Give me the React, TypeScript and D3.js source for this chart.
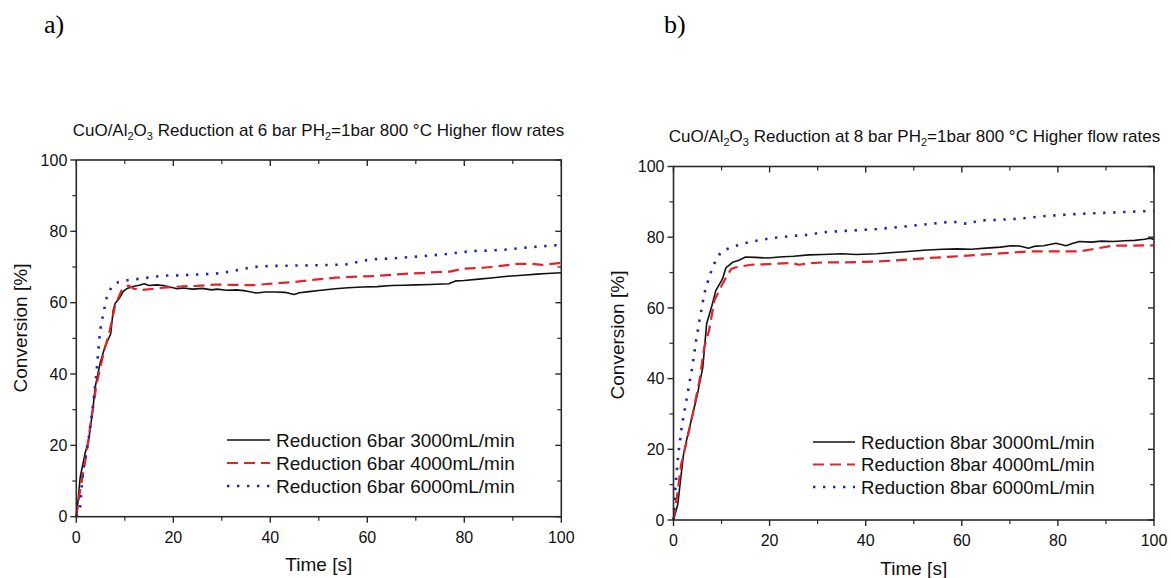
import React from 'react';
import * as d3 from 'd3';

// ---------- Data: panel a) 6 bar ----------
const tA3000 = [0, 0.4, 0.8, 1.8, 2.5, 3.4, 3.9, 4.9, 5.9, 7.1, 7.6, 8.0, 8.8, 9.7, 10.5, 11.9, 13.0, 14.0, 15.0, 16.6, 18, 20.8, 22, 24, 26, 27.9, 29, 31, 33, 35, 37.1, 39, 41, 43, 44.9, 46, 48, 50, 53.4, 56, 59, 62, 65, 67.6, 70, 73, 76.8, 78.2, 80, 83, 86, 88.9, 92, 95, 97, 100];
const vA3000 = [0, 5, 11, 17.7, 21, 29.9, 36.4, 43, 47.6, 51.3, 57.8, 59.8, 61.1, 63.2, 64, 64.6, 64.9, 65.3, 64.8, 65, 64.8, 63.9, 64.1, 63.8, 64, 63.6, 63.8, 63.5, 63.6, 63.3, 62.7, 63, 63.0, 62.9, 62.3, 62.8, 63.1, 63.4, 63.9, 64.2, 64.4, 64.5, 64.8, 64.9, 65, 65.1, 65.3, 66.1, 66.2, 66.6, 67, 67.4, 67.7, 68, 68.2, 68.4];

const tA4000 = [0, 0.8, 2, 3.2, 4.2, 5.6, 6.9, 8, 9.3, 10.7, 11.9, 13.7, 15.9, 17.9, 22, 25, 28.6, 32, 36.4, 40, 44.9, 48, 53.4, 58, 62, 67.6, 71, 74.7, 77, 79.6, 84, 88, 91, 94, 96, 99.5, 100];
const vA4000 = [0, 7.5, 16.8, 28.5, 37.3, 45.7, 52.2, 59.2, 63.4, 64.8, 63.9, 63.6, 63.9, 64.2, 64.6, 64.7, 65.1, 65.0, 64.9, 65.3, 65.8, 66.3, 67.0, 67.3, 67.5, 68.1, 68.3, 68.6, 68.7, 69.5, 69.8, 70.4, 70.9, 70.9, 70.6, 71.1, 71.1];

const tA6000 = [0, 0.8, 1.4, 2.5, 3.5, 4.2, 4.9, 5.7, 6.3, 7.3, 8.7, 10.9, 13.1, 17.9, 20, 25, 28.6, 32.1, 36.4, 40, 45, 50, 55.5, 60.5, 65, 71.1, 76, 81.8, 85, 88.9, 93, 98.8, 100];
const vA6000 = [0, 2.8, 13, 21.5, 31.7, 41, 52.2, 57.8, 61.6, 64.5, 65.8, 66.4, 66.7, 67.6, 67.6, 67.9, 68.1, 68.8, 70.0, 70.3, 70.4, 70.5, 70.7, 72.1, 72.4, 73.0, 73.6, 74.5, 74.6, 74.9, 75.5, 76.1, 76.1];

// ---------- Data: panel b) 8 bar ----------
const tB3000 = [0, 0.9, 1.6, 2.1, 3, 4, 5, 6.1, 6.9, 8, 8.8, 10.2, 10.9, 12.3, 13.5, 15, 17, 19.7, 22, 25, 28.2, 31, 35, 38, 42.3, 45, 48, 50, 52.8, 56, 59, 62, 65, 68, 70.4, 72, 73.9, 75, 77, 79.6, 81.7, 83, 84.5, 87, 89, 91.5, 94, 96, 98, 99.3, 100];
const vB3000 = [0, 4.5, 13, 18.7, 24.3, 30, 35.7, 43.2, 55.5, 60.7, 64.9, 68.2, 71.3, 72.9, 73.4, 74.4, 74.3, 74.1, 74.4, 74.6, 75, 75.1, 75.3, 75.1, 75.3, 75.6, 75.9, 76.1, 76.4, 76.6, 76.7, 76.6, 76.9, 77.2, 77.6, 77.5, 76.9, 77.4, 77.6, 78.3, 77.6, 78.2, 78.8, 78.6, 78.9, 78.8, 79.0, 79.1, 79.4, 79.7, 79.3];

const tB4000 = [0, 0.7, 1.6, 2.8, 4, 5.4, 6.4, 7.4, 8.5, 10.2, 11.2, 12, 13, 16.2, 20, 24.6, 26.1, 28, 31.7, 36, 42.3, 47, 52.8, 58, 63.4, 68, 73.9, 78, 84.5, 88, 91.5, 95, 99.3, 100];
const vB4000 = [0, 6.4, 15.8, 22.5, 30, 39.4, 48.9, 53.6, 62.1, 66.8, 69.2, 71.0, 71.5, 72.2, 72.4, 72.7, 72.2, 72.6, 72.9, 72.9, 73.1, 73.5, 74.1, 74.5, 75.0, 75.4, 76.0, 76.0, 76.0, 76.8, 77.6, 77.6, 77.7, 77.7];

const tB6000 = [0, 0.4, 1, 1.8, 2.8, 3.9, 4.7, 5.4, 6.4, 7.6, 8.8, 10.0, 12.3, 15.7, 20.6, 26.1, 28.2, 31, 36, 42.3, 48, 53, 56.3, 59, 61.3, 63.4, 67, 70.4, 74, 77.5, 81, 84.5, 88, 91.5, 95, 99.3, 100];
const vB6000 = [0, 9.2, 18.7, 27.2, 34.7, 43.2, 50.8, 56.4, 64, 69.5, 73.5, 76.0, 77.3, 78.6, 79.8, 80.5, 80.7, 81.4, 81.8, 82.3, 83.0, 83.7, 84.2, 84.3, 83.7, 84.7, 84.9, 85.1, 85.5, 86.0, 86.3, 86.6, 86.8, 87.0, 87.2, 87.4, 87.4];

const legendA = ['Reduction 6bar 3000mL/min', 'Reduction 6bar 4000mL/min', 'Reduction 6bar 6000mL/min'];
const legendB = ['Reduction 8bar 3000mL/min', 'Reduction 8bar 4000mL/min', 'Reduction 8bar 6000mL/min'];

const xTicks = [0, 20, 40, 60, 80, 100];
const yTicks = [0, 20, 40, 60, 80, 100];
const minorTicks = [10, 30, 50, 70, 90];

const FONT = 'Liberation Sans, Arial, Helvetica, sans-serif';
const AXIS = '#2a2a2a';

const styles = [
  { stroke: '#111111', width: 1.6, dash: undefined as string | undefined },
  { stroke: '#e3222b', width: 2.2, dash: '11,6' },
  { stroke: '#2424b4', width: 2.6, dash: '2.4,7.6' },
];

type Cfg = {
  left: number; right: number; top: number; bottom: number;
  bar: string; titleX: number; titleY: number;
  yLabelX: number; yLabelY: number; xLabelY: number;
  legLineX0: number; legLineX1: number; legTextX: number; legRows: number[]; legFont: number;
  letter: string; letterX: number;
};

function Panel({ cfg, ts, vs, legend }: { cfg: Cfg; ts: number[][]; vs: number[][]; legend: string[] }) {
  const x = d3.scaleLinear().domain([0, 100]).range([cfg.left, cfg.right]);
  const y = d3.scaleLinear().domain([0, 100]).range([cfg.bottom, cfg.top]);
  const line = d3.line<[number, number]>().x(d => x(d[0])).y(d => y(d[1]));
  const paths = ts.map((t, i) => line(t.map((tt, j) => [tt, vs[i][j]] as [number, number])) || '');
  return (
    <g>
      <text x={cfg.letterX} y={33} fontFamily="Liberation Serif, Times New Roman, serif" fontSize={26} fill="#000">{cfg.letter}</text>
      <text x={cfg.titleX} y={cfg.titleY} fontFamily={FONT} fontSize={17} fill="#111">
        <tspan>CuO/Al</tspan>
        <tspan fontSize={11} dy={4}>2</tspan>
        <tspan dy={-4}>O</tspan>
        <tspan fontSize={11} dy={4}>3</tspan>
        <tspan dy={-4}>{` Reduction at ${cfg.bar} bar PH`}</tspan>
        <tspan fontSize={11} dy={4}>2</tspan>
        <tspan dy={-4}>=1bar 800 °C Higher flow rates</tspan>
      </text>
      <g fill="none" strokeLinejoin="round">
        {paths.map((p, i) => (
          <path key={i} d={p} stroke={styles[i].stroke} strokeWidth={styles[i].width} strokeDasharray={styles[i].dash} />
        ))}
      </g>
      <rect x={cfg.left} y={cfg.top} width={cfg.right - cfg.left} height={cfg.bottom - cfg.top} fill="none" stroke={AXIS} strokeWidth={1.6} />
      {xTicks.map(v => (
        <g key={'xt' + v}>
          <line x1={x(v)} x2={x(v)} y1={cfg.bottom} y2={cfg.bottom + 6} stroke={AXIS} strokeWidth={1.4} />
          <line x1={x(v)} x2={x(v)} y1={cfg.top} y2={cfg.top + 6} stroke={AXIS} strokeWidth={1.4} />
          <text x={x(v)} y={cfg.bottom + 26} textAnchor="middle" fontFamily={FONT} fontSize={16} fill="#111">{v}</text>
        </g>
      ))}
      {minorTicks.map(v => (
        <g key={'xm' + v}>
          <line x1={x(v)} x2={x(v)} y1={cfg.bottom} y2={cfg.bottom + 4} stroke={AXIS} strokeWidth={1.2} />
          <line x1={x(v)} x2={x(v)} y1={cfg.top} y2={cfg.top + 4} stroke={AXIS} strokeWidth={1.2} />
        </g>
      ))}
      {yTicks.map(v => (
        <g key={'yt' + v}>
          <line x1={cfg.left - 6} x2={cfg.left} y1={y(v)} y2={y(v)} stroke={AXIS} strokeWidth={1.4} />
          <line x1={cfg.right - 6} x2={cfg.right} y1={y(v)} y2={y(v)} stroke={AXIS} strokeWidth={1.4} />
          <text x={cfg.left - 9} y={y(v) + 5.7} textAnchor="end" fontFamily={FONT} fontSize={16} fill="#111">{v}</text>
        </g>
      ))}
      {minorTicks.map(v => (
        <g key={'ym' + v}>
          <line x1={cfg.left - 4} x2={cfg.left} y1={y(v)} y2={y(v)} stroke={AXIS} strokeWidth={1.2} />
          <line x1={cfg.right - 4} x2={cfg.right} y1={y(v)} y2={y(v)} stroke={AXIS} strokeWidth={1.2} />
        </g>
      ))}
      <text x={(cfg.left + cfg.right) / 2} y={cfg.xLabelY} textAnchor="middle" fontFamily={FONT} fontSize={19} fill="#111">Time [s]</text>
      <text transform={`translate(${cfg.yLabelX},${cfg.yLabelY}) rotate(-90)`} textAnchor="middle" fontFamily={FONT} fontSize={19} fill="#111">Conversion [%]</text>
      {legend.map((lab, i) => (
        <g key={'lg' + i}>
          <line x1={cfg.legLineX0} x2={cfg.legLineX1} y1={cfg.legRows[i]} y2={cfg.legRows[i]} stroke={styles[i].stroke} strokeWidth={styles[i].width} strokeDasharray={styles[i].dash} />
          <text x={cfg.legTextX} y={cfg.legRows[i] + 6.7} fontFamily={FONT} fontSize={cfg.legFont} fill="#111">{lab}</text>
        </g>
      ))}
    </g>
  );
}

const cfgA: Cfg = {
  left: 76.3, right: 561.3, top: 160, bottom: 516.7, bar: '6',
  titleX: 72.7, titleY: 136, yLabelX: 27, yLabelY: 328, xLabelY: 571,
  legLineX0: 227, legLineX1: 270, legTextX: 276, legRows: [440, 463, 486], legFont: 19,
  letter: 'a)', letterX: 44,
};
const cfgB: Cfg = {
  left: 673.5, right: 1154, top: 166.5, bottom: 520, bar: '8',
  titleX: 668.7, titleY: 142, yLabelX: 624, yLabelY: 335, xLabelY: 575,
  legLineX0: 813, legLineX1: 855, legTextX: 861, legRows: [442, 464.5, 487], legFont: 18.6,
  letter: 'b)', letterX: 664,
};

export default function App() {
  return (
    <svg width={1171} height={578} style={{ position: 'absolute', left: 0, top: 0, background: '#fff' }}>
      <rect width={1171} height={578} fill="#fff" />
      <Panel cfg={cfgA} ts={[tA3000, tA4000, tA6000]} vs={[vA3000, vA4000, vA6000]} legend={legendA} />
      <Panel cfg={cfgB} ts={[tB3000, tB4000, tB6000]} vs={[vB3000, vB4000, vB6000]} legend={legendB} />
    </svg>
  );
}
